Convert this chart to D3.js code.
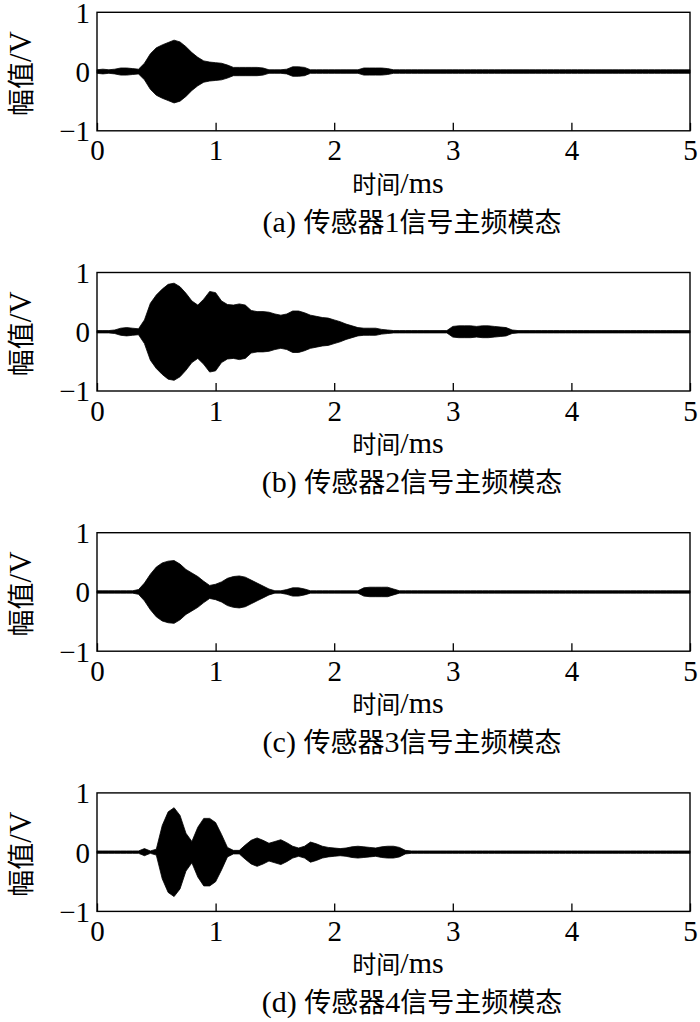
<!DOCTYPE html>
<html><head><meta charset="utf-8">
<script src="https://cdn.jsdelivr.net/npm/d3@7"></script>
<style>body{margin:0;background:#fff}svg text{font-family:"Liberation Serif","Noto Sans CJK SC",serif;fill:#000}</style>
</head><body><svg id="c" width="700" height="1022"></svg>
<script>
// Envelope amplitude (V) of each sensor's main-frequency mode, sampled every 0.05 ms from 0 to 5 ms
const timeStep = 0.05;
const sensor1 = [
  .03,.04,.03,.04,.06,.06,.05,.04,.14,.30,
  .40,.45,.49,.53,.50,.42,.32,.24,.18,.16,
  .15,.14,.11,.07,.07,.07,.07,.07,.06,.03,
  .03,.03,.04,.08,.08,.07,.03,.03,.03,.03,
  .03,.03,.03,.03,.03,.06,.06,.06,.06,.05,
  .03,.03,.03,.03,.03,.03,.03,.03,.03,.03,
  .03,.03,.03,.03,.03,.03,.03,.03,.03,.03,
  .03,.03,.03,.03,.03,.03,.03,.03,.03,.03,
  .03,.03,.03,.03,.03,.03,.03,.03,.03,.03,
  .03,.03,.03,.03,.03,.03,.03,.03,.03,.03,.03];
const sensor2 = [
  .02,.02,.02,.03,.06,.07,.06,.05,.20,.48,
  .62,.72,.80,.82,.76,.65,.52,.45,.55,.68,
  .66,.52,.46,.45,.47,.45,.36,.34,.34,.33,
  .30,.28,.30,.35,.35,.32,.28,.26,.24,.23,
  .20,.17,.13,.10,.07,.06,.06,.06,.04,.03,
  .02,.02,.02,.02,.02,.02,.02,.02,.02,.02,
  .09,.10,.10,.10,.09,.10,.10,.09,.08,.07,
  .03,.02,.02,.02,.02,.02,.02,.02,.02,.02,
  .02,.02,.02,.02,.02,.02,.02,.02,.02,.02,
  .02,.02,.02,.02,.02,.02,.02,.02,.02,.02,.02];
const sensor3 = [
  .02,.02,.02,.02,.02,.02,.02,.04,.15,.30,
  .42,.49,.52,.53,.47,.38,.32,.26,.18,.11,
  .13,.17,.23,.26,.27,.25,.20,.15,.10,.05,
  .02,.02,.04,.07,.07,.05,.02,.02,.02,.02,
  .02,.02,.02,.02,.02,.07,.08,.08,.08,.08,
  .05,.02,.02,.02,.02,.02,.02,.02,.02,.02,
  .02,.02,.02,.02,.02,.02,.02,.02,.02,.02,
  .02,.02,.02,.02,.02,.02,.02,.02,.02,.02,
  .02,.02,.02,.02,.02,.02,.02,.02,.02,.02,
  .02,.02,.02,.02,.02,.02,.02,.02,.02,.02,.02];
const sensor4 = [
  .02,.02,.02,.02,.02,.02,.02,.02,.06,.02,
  .05,.45,.68,.75,.62,.32,.18,.42,.57,.57,
  .50,.30,.08,.03,.03,.12,.20,.24,.20,.15,
  .18,.21,.16,.10,.07,.10,.17,.14,.10,.08,
  .07,.06,.07,.09,.10,.09,.08,.07,.09,.10,
  .10,.08,.03,.02,.02,.02,.02,.02,.02,.02,
  .02,.02,.02,.02,.02,.02,.02,.02,.02,.02,
  .02,.02,.02,.02,.02,.02,.02,.02,.02,.02,
  .02,.02,.02,.02,.02,.02,.02,.02,.02,.02,
  .02,.02,.02,.02,.02,.02,.02,.02,.02,.02,.02];
const series = [sensor1, sensor2, sensor3, sensor4];
const captions = ["(a) 传感器1信号主频模态","(b) 传感器2信号主频模态","(c) 传感器3信号主频模态","(d) 传感器4信号主频模态"];
const xTicks = [0,1,2,3,4,5];
const yTicks = [-1,0,1];
const xLabel = "时间/ms";
const yLabel = "幅值/V";

// write mixed CJK / Latin text with separate sizes (Latin set larger, as in the original)
function mixed(sel, str, cjkSize, latSize) {
  const runs = str.match(/[\u3400-\u9fff]+|[^\u3400-\u9fff]+/g);
  runs.forEach(r => {
    const cjk = /[\u3400-\u9fff]/.test(r);
    sel.append("tspan").style("font-size", (cjk ? cjkSize : latSize) + "px")
      .attr("font-family", cjk ? "Noto Sans CJK SC" : "Liberation Serif").text(r);
  });
  return sel;
}

const svg = d3.select("#c");
const L = 97, R = 690, H = 118.5;
series.forEach((vals, i) => {
  const top = 12.3 + i * 260.2, bot = top + H;
  const x = d3.scaleLinear().domain([0, 5]).range([L, R]);
  const y = d3.scaleLinear().domain([-1, 1]).range([bot, top]);
  const g = svg.append("g");
  const pts = vals.map((v, k) => ({t: k * timeStep, a: v}));
  g.append("path").datum(pts)
    .attr("d", d3.area().x(d => x(d.t)).y0(d => y(-d.a)).y1(d => y(d.a)))
    .attr("fill", "#000").attr("stroke", "#000").attr("stroke-width", 0.8);
  g.append("line").attr("x1", L).attr("x2", R).attr("y1", y(0)).attr("y2", y(0))
    .attr("stroke", "#000").attr("stroke-width", 1.2);
  const xa = g.append("g").attr("transform", `translate(0,${bot})`)
    .call(d3.axisBottom(x).tickValues(xTicks).tickSize(-8).tickPadding(9).tickFormat(d3.format("d")));
  xa.select(".domain").remove();
  xa.selectAll("line").attr("stroke-width", 1.3);
  xa.selectAll("text").style("font-size", "29px").attr("font-family", null);
  const ya = g.append("g").attr("transform", `translate(${L},0)`)
    .call(d3.axisLeft(y).tickValues(yTicks).tickSize(0).tickPadding(7).tickFormat(d3.format("d")));
  ya.select(".domain").remove();
  ya.selectAll("text").style("font-size", "29px").attr("font-family", null).attr("dy", "0.34em");
  g.append("rect").attr("x", L).attr("y", top).attr("width", R - L).attr("height", H)
    .attr("fill", "none").attr("stroke", "#000").attr("stroke-width", 1.4);
  mixed(g.append("text").attr("x", 398).attr("y", bot + 62).attr("text-anchor", "middle"), xLabel, 24, 30);
  mixed(g.append("text").attr("x", 412).attr("y", bot + 101).attr("text-anchor", "middle"), captions[i], 27, 30);
  mixed(g.append("text").attr("transform", `translate(31,${(top + bot) / 2 + 2}) rotate(-90)`)
    .attr("text-anchor", "middle"), yLabel, 27, 31);
});
</script></body></html>
